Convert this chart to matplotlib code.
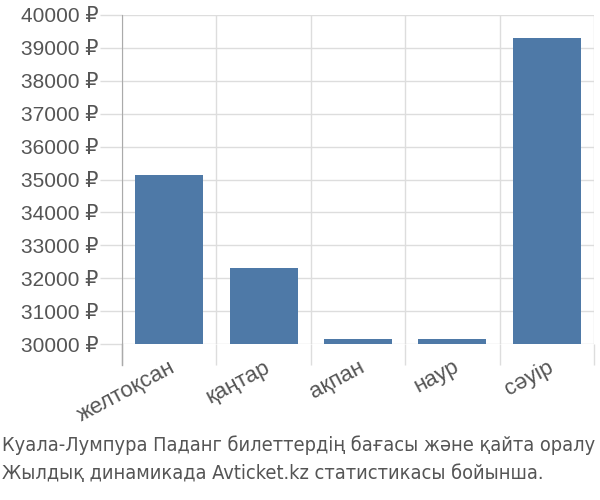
import matplotlib
matplotlib.use("Agg")
import matplotlib.pyplot as plt
from matplotlib.ticker import FuncFormatter

# Data
months = ["желтоқсан", "қаңтар", "ақпан", "наур", "сәуір"]
prices = [35130, 32320, 30150, 30150, 39300]
caption = ["Куала-Лумпура Паданг билеттердің бағасы және қайта оралу",
           "Жылдық динамикада Avticket.kz статистикасы бойынша."]

plt.rcParams['font.family'] = ['Liberation Sans', 'DejaVu Sans']

fig = plt.figure(figsize=(6, 5), dpi=100)
ax = fig.add_axes([122/600, 1 - 344/500, (594 - 122)/600, (344 - 15)/500])

x = list(range(len(months)))
ax.bar(x, prices, width=0.72, color="#4e79a7", zorder=3)

ax.set_xlim(-0.5, len(months) - 0.5)
ax.set_ylim(30000, 40000)
ax.set_yticks(range(30000, 40001, 1000))
ax.yaxis.set_major_formatter(FuncFormatter(lambda v, p: "%d ₽" % v))

ax.set_xticks(x)
ax.set_xticklabels(months, rotation=28, ha="right", rotation_mode="anchor")
ax.set_xticks([i - 0.5 for i in range(len(months) + 1)], minor=True)
ax.tick_params(axis="x", which="major", length=0, pad=9, labelsize=16, labelcolor="#555555")
ax.tick_params(axis="x", which="minor", length=15, color="#dddddd", width=1)
ax.tick_params(axis="y", length=16, color="#dddddd", width=1, pad=1, labelsize=15, labelcolor="#555555")

ax.grid(True, which="minor", axis="x", color="#dddddd", linewidth=1, zorder=0)
ax.grid(True, which="major", axis="y", color="#dddddd", linewidth=1, zorder=0)

for s in ["top", "right", "bottom"]:
    ax.spines[s].set_visible(False)
ax.spines["left"].set_color("#aaaaaa")
ax.spines["left"].set_bounds(30000, 40000)
ax.plot([-0.5, -0.5], [30000, 29350], color="#aaaaaa", linewidth=1, clip_on=False, zorder=4)

cap_font = ['DejaVu Sans']
fig.text(0.004, 1 - 445/500, caption[0], fontsize=14.3, color="#555555", family=cap_font,
         stretch="condensed", va="center")
fig.text(0.004, 1 - 474/500, caption[1], fontsize=14.3, color="#555555", family=cap_font,
         stretch="condensed", va="center")

fig.savefig("out.png", dpi=100)
